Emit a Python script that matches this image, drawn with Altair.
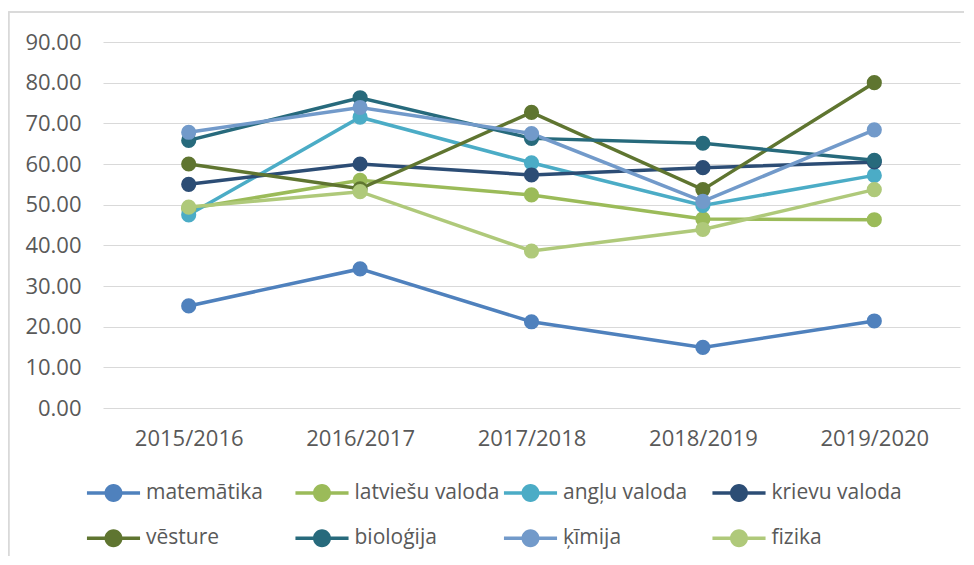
import altair as alt
import pandas as pd

years = ["2015/2016", "2016/2017", "2017/2018", "2018/2019", "2019/2020"]
series = ["matemātika", "latviešu valoda", "angļu valoda", "krievu valoda",
          "vēsture", "bioloģija", "ķīmija", "fizika"]
colors = ["#4F81BD", "#9BBB59", "#4BACC6", "#2C4D75",
          "#5F7530", "#276A7C", "#729ACA", "#AFC97A"]

matematika = [25.1, 34.2, 21.2, 14.9, 21.4]
latviesu = [49.0, 56.0, 52.4, 46.5, 46.3]
anglu = [47.5, 71.5, 60.3, 49.8, 57.2]
krievu = [55.0, 60.0, 57.3, 59.1, 60.5]
vesture = [60.0, 53.9, 72.7, 53.7, 80.0]
biologija = [65.8, 76.3, 66.3, 65.1, 60.9]
kimija = [67.8, 73.9, 67.5, 50.8, 68.4]
fizika = [49.4, 53.2, 38.6, 43.9, 53.7]

values = [matematika, latviesu, anglu, krievu, vesture, biologija, kimija, fizika]

rows = []
for si, (name, vals) in enumerate(zip(series, values)):
    for yi, (yr, v) in enumerate(zip(years, vals)):
        rows.append({"year": yr, "subject": name, "value": v, "order": si})
df = pd.DataFrame(rows)

FONT = "Open Sans"
TXT = "#595959"
FS = 22

sym_path = ("M-1.77,-0.115H1.77V0.115H-1.77Z "
            "M0.6,0A0.6,0.6 0 1,1 -0.6,0A0.6,0.6 0 1,1 0.6,0Z")

legend = alt.Legend(
    title=None, orient="none", legendX=-4.5, legendY=436,
    columns=4, direction="horizontal", gridAlign="all",
    symbolType=sym_path, symbolSize=900, symbolStrokeWidth=0,
    symbolOpacity=1,
    labelFont=FONT, labelFontSize=21, labelColor=TXT,
    labelOffset=17.5, columnPadding=3.5, rowPadding=20.3, padding=0,
    labelLimit=300,
)

color = alt.Color("subject:N", scale=alt.Scale(domain=series, range=colors),
                  sort=series, legend=legend)

x = alt.X("year:O", sort=years, title=None,
          scale=alt.Scale(padding=0.5),
          axis=alt.Axis(labelAngle=0, labelFont=FONT, labelFontSize=FS,
                        labelColor=TXT, labelPadding=20, ticks=False,
                        domain=False, grid=False))
y = alt.Y("value:Q", title=None,
          scale=alt.Scale(domain=[0, 90], nice=False, zero=True),
          axis=alt.Axis(values=list(range(0, 91, 10)), format=".2f",
                        labelFont=FONT, labelFontSize=FS, labelColor=TXT,
                        labelPadding=22, ticks=False, domain=False,
                        grid=True, gridColor="#D9D9D9", gridWidth=1.2))

lines = alt.Chart(df).mark_line(strokeWidth=3.5).encode(
    x=x, y=y, color=color, detail="subject:N", order="order:Q")
points = alt.Chart(df).mark_point(filled=True, size=230, opacity=1).encode(
    x=x, y=y, color=color, order="order:Q")

frame_left = alt.Chart(df).mark_rule(color="#D9D9D9", strokeWidth=1.2).encode(
    x=alt.value(-94.5), y=alt.value(-30), y2=alt.value(545))
frame_top = alt.Chart(df).mark_rule(color="#D9D9D9", strokeWidth=1.2).encode(
    x=alt.value(-94.5), x2=alt.value(880), y=alt.value(-30))

chart = alt.layer(frame_left, frame_top, lines, points).properties(
    width=857, height=366, background="white",
    autosize=alt.AutoSizeParams(type="none"),
    padding={"left": 95, "top": 34, "right": 4, "bottom": 148},
).configure_view(stroke=None)

chart.save("out.html", embed_options={"renderer": "svg", "actions": False})
